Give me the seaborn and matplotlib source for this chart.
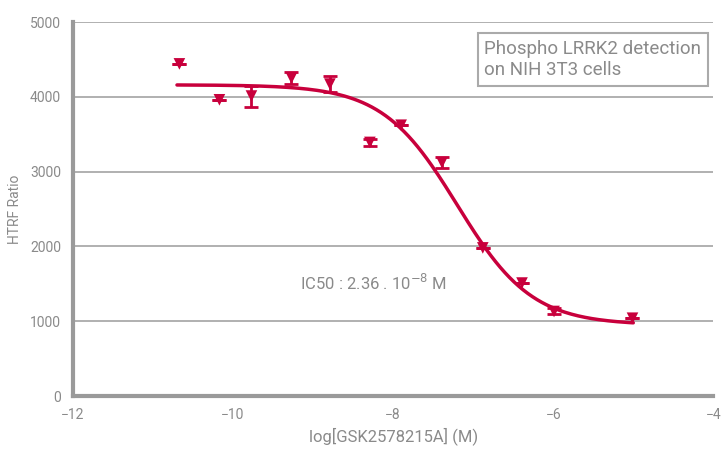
import numpy as np
import pandas as pd
import seaborn as sns
import matplotlib.pyplot as plt

# data
log_conc = [-10.67, -10.17, -9.77, -9.27, -8.79, -8.29, -7.90, -7.39, -6.88, -6.39, -5.99, -5.01]
htrf = [4440, 3960, 4010, 4250, 4170, 3390, 3620, 3120, 1980, 1510, 1130, 1040]
err = [0, 0, 140, 80, 110, 50, 0, 70, 0, 0, 40, 0]

# 4PL fit parameters
bottom, top, log_ic50, hill = 950, 4160, -7.2, 0.93

red = "#c8003c"
grey = "#9a9a9a"
txt = "#8a8a8a"

xfit = np.linspace(-10.7, -5.0, 200)
yfit = bottom + (top - bottom) / (1 + 10 ** ((xfit - log_ic50) * hill))
fit_df = pd.DataFrame({"x": xfit, "y": yfit})
pts_df = pd.DataFrame({"x": log_conc, "y": htrf})

sns.set_style("white")
plt.rcParams["font.family"] = ["Roboto", "DejaVu Sans"]

fig = plt.figure(figsize=(7.22, 4.49), dpi=100)
ax = fig.add_axes([0.101, 0.118, 0.887, 0.833])

for yv in [1000, 2000, 3000, 4000, 5000]:
    ax.axhline(yv, color="#aaaaaa", lw=1.3, zorder=0)

sns.lineplot(data=fit_df, x="x", y="y", ax=ax, color=red, lw=2.5, zorder=2)
ax.errorbar(log_conc, htrf, yerr=err, fmt="none", ecolor=red, elinewidth=2,
            capsize=5, capthick=2, zorder=3)
sns.scatterplot(data=pts_df, x="x", y="y", ax=ax, marker="v", s=70, color=red,
                edgecolor="none", zorder=4)

ax.set_xlim(-12, -4)
ax.set_ylim(0, 5000)
ax.set_xticks([-12, -10, -8, -6, -4])
ax.set_yticks([0, 1000, 2000, 3000, 4000, 5000])
ax.set_xlabel("log[GSK2578215A] (M)", color=txt, fontsize=12, labelpad=4)
ax.set_ylabel("HTRF Ratio", color=txt, fontsize=10, labelpad=6)
ax.tick_params(axis="both", colors=grey, labelcolor=txt, labelsize=10,
               length=5, width=2, direction="out")
for s in ["top", "right"]:
    ax.spines[s].set_visible(False)
for s in ["left", "bottom"]:
    ax.spines[s].set_color(grey)
    ax.spines[s].set_linewidth(3)

ax.text(-8.25, 1510, r"IC50 : 2.36 . 10$^{-8}$ M", color=txt, fontsize=12,
        ha="center", va="center")
ax.text(-6.86, 4760, "Phospho LRRK2 detection\non NIH 3T3 cells", color=txt,
        fontsize=13.5, ha="left", va="top", linespacing=1.25,
        bbox=dict(boxstyle="square,pad=0.35", fc="white", ec="#aaaaaa", lw=1.5))

fig.savefig("out.png", dpi=100)
